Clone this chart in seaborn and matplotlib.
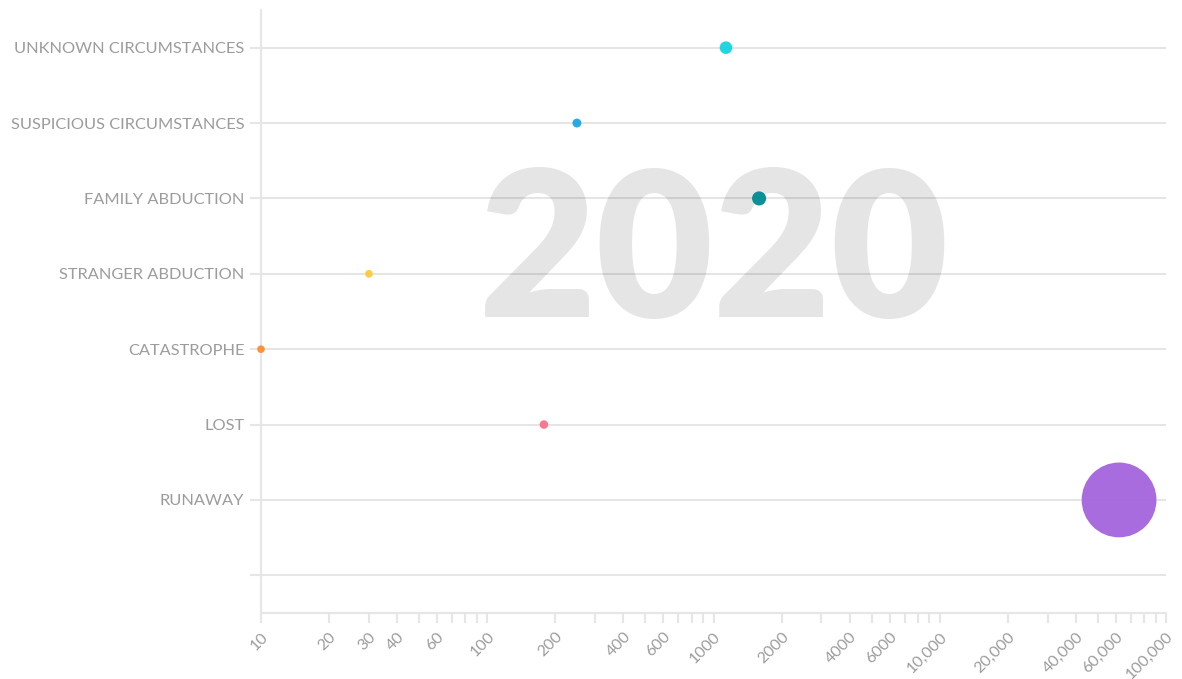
import pandas as pd
import matplotlib.pyplot as plt
import matplotlib.transforms as mtransforms
import seaborn as sns

# data (2020, log scale)
categories = [
    'UNKNOWN CIRCUMSTANCES',
    'SUSPICIOUS CIRCUMSTANCES',
    'FAMILY ABDUCTION',
    'STRANGER ABDUCTION',
    'CATASTROPHE',
    'LOST',
    'RUNAWAY',
]
counts = [1135, 249, 1590, 30, 10, 178, 62000]
colors = ['#13d4e0', '#1aa7e6', '#008b93', '#ffca3a', '#ff8c2e', '#ff6f8c', '#a464de']

tick_values = [m * 10 ** e for e in range(1, 5) for m in range(1, 10)] + [100000]
shown_labels = [10, 20, 30, 40, 60, 100, 200, 400, 600, 1000, 2000, 4000, 6000,
                10000, 20000, 40000, 60000, 100000]

df = pd.DataFrame({'type': categories, 'count': counts})

sns.set_theme(style="white")
plt.rcParams['font.family'] = ['Lato', 'DejaVu Sans']

fig = plt.figure(figsize=(11.82, 6.79), dpi=100)
ax = fig.add_axes([0.2208, 0.0972, 0.7657, 0.8881])

grid_col = '#e6e6e6'
label_col = '#9c9c9c'

ax.set_xscale('log')

ax.text(0.5, 0.59, '2020', transform=ax.transAxes, fontsize=146, fontweight='heavy',
        color='#e5e5e5', ha='center', va='center', zorder=0)

sns.scatterplot(
    data=df, x='count', y='type',
    hue='type', hue_order=categories, palette=colors,
    size='count', sizes=(30, 2900),
    legend=False, edgecolor='none', alpha=0.95, zorder=3, clip_on=False, ax=ax,
)

# y axis with one blank row at the bottom
ax.set_yticks(range(len(categories) + 1))
ax.set_yticklabels(categories + [''])
ax.set_ylim(len(categories) + 0.5, -0.5)
ax.set_xlim(10, 100000)

for i in range(len(categories) + 1):
    ax.axhline(i, color='black', alpha=0.1, lw=1.5, zorder=1)

ax.set_xticks(tick_values)
ax.set_xticklabels([(f'{v:,}' if v >= 10000 else str(v)) if v in shown_labels else ''
                    for v in tick_values])
ax.xaxis.set_minor_locator(plt.NullLocator())
plt.setp(ax.get_xticklabels(), rotation=45, ha='right', rotation_mode='anchor')

# nudge the last label a touch left so it stays inside the figure
last = ax.get_xticklabels()[-1]
last.set_transform(last.get_transform() +
                   mtransforms.ScaledTranslation(-6 / 72, 0, fig.dpi_scale_trans))

ax.tick_params(axis='x', length=7, width=1.5, color=grid_col, labelcolor=label_col,
               labelsize=11.5, pad=5, bottom=True)
ax.tick_params(axis='y', length=8, width=1.5, color=grid_col, labelcolor=label_col,
               labelsize=11.8, pad=4, left=True)

for s in ['top', 'right']:
    ax.spines[s].set_visible(False)
for s in ['left', 'bottom']:
    ax.spines[s].set_color(grid_col)
    ax.spines[s].set_linewidth(1.5)

ax.set_xlabel('')
ax.set_ylabel('')

plt.savefig('out.png', dpi=100)
